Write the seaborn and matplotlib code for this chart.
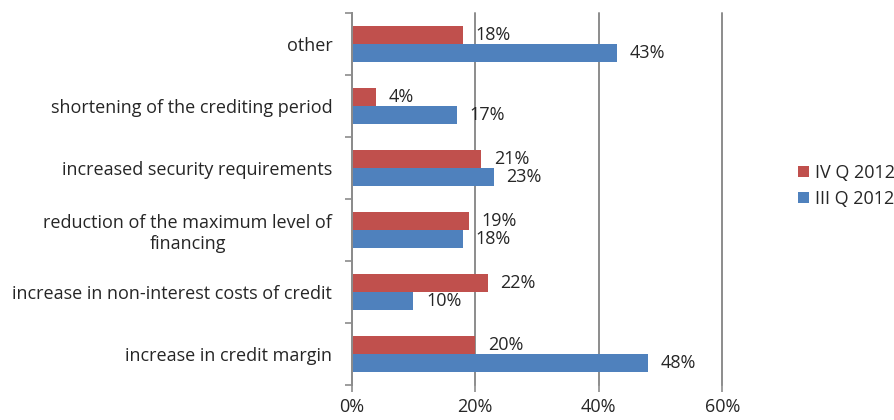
import pandas as pd
import seaborn as sns
import matplotlib.pyplot as plt
from matplotlib.ticker import FuncFormatter, FixedLocator

# === DANE ===
categories = [
    "other",
    "shortening of the crediting period",
    "increased security requirements",
    "reduction of the maximum level of\nfinancing",
    "increase in non-interest costs of credit",
    "increase in credit margin",
]
series = ["IV Q 2012", "III Q 2012"]
q4_2012 = [18, 4, 21, 19, 22, 20]
q3_2012 = [43, 17, 23, 18, 10, 48]
colors = ["#C0504D", "#4F81BD"]

df = pd.DataFrame({
    "category": categories * 2,
    "series": [series[0]] * len(categories) + [series[1]] * len(categories),
    "value": q4_2012 + q3_2012,
})

FS = 13

# === WYKRES ===
sns.set_theme(style="white")
plt.rcParams["font.family"] = ["Open Sans", "DejaVu Sans"]

fig = plt.figure(figsize=(8.95, 4.2), dpi=100)
ax = fig.add_axes([0.393, 0.083, 0.414, 0.886])

sns.barplot(data=df, y="category", x="value", hue="series", order=categories,
            hue_order=series, palette=colors, width=0.57, ax=ax,
            edgecolor="none", saturation=1)

for cont in ax.containers:
    ax.bar_label(cont, labels=[f"{v:.0f}%" for v in cont.datavalues],
                 padding=9, fontsize=FS, color="#262626")

ax.set_xlim(0, 60)
ax.set_ylim(len(categories) - 0.5, -0.5)
ax.xaxis.set_major_locator(FixedLocator([0, 20, 40, 60]))
ax.xaxis.set_major_formatter(FuncFormatter(lambda v, _: f"{v:.0f}%"))
ax.grid(axis="x", color="#8C8C8C", linewidth=1.4)
ax.set_axisbelow(True)
for gl in ax.get_xgridlines():
    gl.set_clip_on(False)

ax.set_xlabel("")
ax.set_ylabel("")
for s in ["top", "right", "bottom"]:
    ax.spines[s].set_visible(False)
ax.spines["left"].set_color("#8C8C8C")
ax.spines["left"].set_linewidth(1.4)

ax.tick_params(axis="x", length=5, width=1.2, color="#8C8C8C", pad=4,
               labelsize=FS, labelcolor="#262626", bottom=True)
ax.tick_params(axis="y", length=0, pad=14, labelsize=FS, labelcolor="#262626")
ax.set_yticks([i - 0.5 for i in range(len(categories) + 1)], minor=True)
ax.tick_params(axis="y", which="minor", length=5, width=1.2, color="#8C8C8C", left=True)
for lbl in ax.get_yticklabels():
    lbl.set_multialignment("center")

leg = ax.legend(loc="center left", bbox_to_anchor=(1.18, 0.535), frameon=False,
                fontsize=FS, handlelength=0.6, handleheight=0.6,
                handletextpad=0.35, labelspacing=0.45, borderpad=0)
for t in leg.get_texts():
    t.set_color("#262626")

plt.savefig("out.png", dpi=100)
plt.close()
